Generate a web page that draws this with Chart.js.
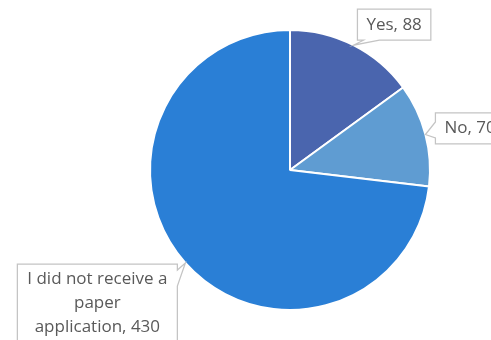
<!DOCTYPE html>
<html>
<head>
<meta charset="utf-8">
<script src="https://cdn.jsdelivr.net/npm/chart.js@4/dist/chart.umd.min.js"></script>
<style>
  html, body { margin: 0; padding: 0; background: #fff; }
  #wrap { width: 491px; height: 340px; }
</style>
</head>
<body>
<div id="wrap"><canvas id="pie" width="491" height="340"></canvas></div>
<script>
const categories = ['Yes', 'No', 'I did not receive a paper application'];
const responses = [88, 70, 430];
const sliceColors = ['#4a65ae', '#5f9cd2', '#2a7fd6'];

// where each callout box sits relative to the point on the slice edge it points at
const calloutOffsets = [
    { dx: 4, dy: -36 },
    { dx: 10, dy: -21.5 },
    { dx: -168, dy: 1 }
];

const LABEL_FONT = '17px "Open Sans", Lato, sans-serif';
const LINE_H = 24;
const PAD_X = 9;
const PAD_Y = 3.5;
const WRAP_WIDTH = 142;

function wrapText(ctx, text, maxWidth) {
    const words = text.split(' ');
    const lines = [];
    let line = '';
    words.forEach(w => {
        const test = line ? line + ' ' + w : w;
        if (line && ctx.measureText(test).width > maxWidth) {
            lines.push(line);
            line = w;
        } else {
            line = test;
        }
    });
    if (line) lines.push(line);
    return lines;
}

// box outline with a wedge pointing at (tx, ty)
function calloutPath(ctx, left, top, w, h, tx, ty) {
    const right = left + w, bottom = top + h;
    const outX = tx < left ? left - tx : (tx > right ? tx - right : 0);
    const outY = ty < top ? top - ty : (ty > bottom ? ty - bottom : 0);
    let side;
    if (outX >= outY) side = tx < left ? 'left' : 'right';
    else side = ty < top ? 'top' : 'bottom';

    const half = 8, inset = 14;
    const clamp = (v, a, b) => Math.min(Math.max(v, a), b);
    const cx = clamp(tx, left + inset, right - inset);
    const cy = clamp(ty, top + inset, bottom - inset);

    ctx.beginPath();
    ctx.moveTo(left, top);
    if (side === 'top') {
        ctx.lineTo(cx - half, top); ctx.lineTo(tx, ty); ctx.lineTo(cx + half, top);
    }
    ctx.lineTo(right, top);
    if (side === 'right') {
        ctx.lineTo(right, cy - half); ctx.lineTo(tx, ty); ctx.lineTo(right, cy + half);
    }
    ctx.lineTo(right, bottom);
    if (side === 'bottom') {
        ctx.lineTo(cx + half, bottom); ctx.lineTo(tx, ty); ctx.lineTo(cx - half, bottom);
    }
    ctx.lineTo(left, bottom);
    if (side === 'left') {
        ctx.lineTo(left, cy + half); ctx.lineTo(tx, ty); ctx.lineTo(left, cy - half);
    }
    ctx.closePath();
}

const calloutLabels = {
    id: 'calloutLabels',
    afterDraw(chart) {
        const ctx = chart.ctx;
        const meta = chart.getDatasetMeta(0);
        ctx.save();
        ctx.font = LABEL_FONT;
        meta.data.forEach((arc, i) => {
            const mid = (arc.startAngle + arc.endAngle) / 2;
            const tx = arc.x + Math.cos(mid) * arc.outerRadius;
            const ty = arc.y + Math.sin(mid) * arc.outerRadius;
            const text = categories[i] + ', ' + chart.data.datasets[0].data[i];
            const lines = wrapText(ctx, text, WRAP_WIDTH);
            const textW = Math.max(...lines.map(l => ctx.measureText(l).width));
            const w = Math.max(textW, lines.length > 1 ? WRAP_WIDTH : 0) + PAD_X * 2;
            const h = lines.length * LINE_H + PAD_Y * 2;
            const left = tx + calloutOffsets[i].dx;
            const top = ty + calloutOffsets[i].dy;

            calloutPath(ctx, left, top, w, h, tx, ty);
            ctx.fillStyle = '#ffffff';
            ctx.fill();
            ctx.strokeStyle = '#c4c4c4';
            ctx.lineWidth = 1.25;
            ctx.stroke();

            ctx.fillStyle = '#595959';
            ctx.textAlign = 'center';
            ctx.textBaseline = 'middle';
            lines.forEach((l, k) => {
                ctx.fillText(l, left + w / 2, top + PAD_Y + LINE_H * k + LINE_H / 2);
            });
        });
        ctx.restore();
    }
};

new Chart(document.getElementById('pie'), {
    type: 'pie',
    data: {
        labels: categories,
        datasets: [{
            data: responses,
            backgroundColor: sliceColors,
            borderColor: '#ffffff',
            borderWidth: 2
        }]
    },
    options: {
        responsive: false,
        animation: false,
        layout: { padding: { left: 149, right: 60, top: 29, bottom: 29 } },
        plugins: {
            legend: { display: false },
            tooltip: { enabled: false }
        }
    },
    plugins: [calloutLabels]
});
</script>
</body>
</html>
